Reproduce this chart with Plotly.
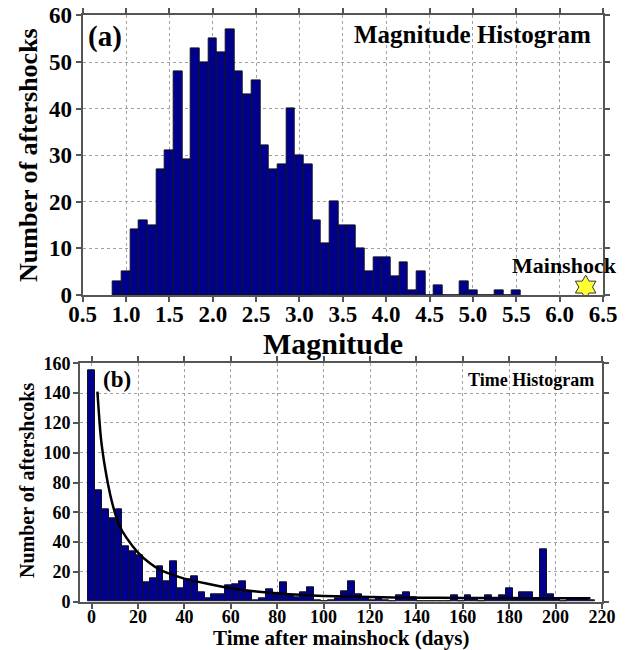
import plotly.graph_objects as go

# ---------------- data ----------------
# (a) magnitude histogram: bin centres (width 0.1) and counts
mag_bins = [0.9, 1.0, 1.1, 1.2, 1.3, 1.4, 1.5, 1.6, 1.7, 1.8, 1.9, 2.0, 2.1, 2.2, 2.3,
            2.4, 2.5, 2.6, 2.7, 2.8, 2.9, 3.0, 3.1, 3.2, 3.3, 3.4, 3.5, 3.6, 3.7, 3.8,
            3.9, 4.0, 4.1, 4.2, 4.3, 4.4, 4.5, 4.6, 4.7, 4.8, 4.9, 5.0, 5.1, 5.2, 5.3,
            5.4, 5.5]
mag_counts = [3, 5, 14, 16, 15, 27, 31, 48, 29, 53, 50, 55, 52, 57, 48,
              43, 46, 32, 27, 28, 40, 30, 28, 16, 11, 20, 15, 15, 10, 5,
              8, 8, 4, 7, 1, 5, 0, 2, 0, 0, 3, 1, 0, 0, 1,
              0, 1]
mag_bin_width = 0.1
mag_ticks = ["0.5", "1.0", "1.5", "2.0", "2.5", "3.0", "3.5", "4.0", "4.5", "5.0",
             "5.5", "6.0", "6.5"]
mainshock_mag = [6.3]
mainshock_y = [1.7]

# (b) time histogram: counts per bin (bin width in days), first bin centred on day 0
time_bin_width = 2.95
time_counts = [155, 75, 62, 56, 62, 37, 34, 31, 13, 16, 24, 14, 27, 9, 15, 17, 6, 2,
               5, 5, 11, 12, 14, 7, 1, 2, 8, 5, 13, 4, 3, 6, 10, 1, 0, 1, 2, 7,
               14, 5, 3, 1, 2, 1, 0, 4, 6, 3, 0, 0, 0, 0, 0, 4, 0, 4, 2, 0,
               4, 2, 4, 9, 2, 6, 6, 2, 35, 5, 2, 0, 2, 2, 2, 1]
time_bins = [i * time_bin_width for i in range(len(time_counts))]

# fitted decay curve
fit_days = [2.5, 4, 6, 8, 10, 12, 15, 20, 25, 30, 35, 40, 50, 60, 70, 80, 90, 100,
            120, 140, 160, 180, 200, 215]
fit_counts = [141, 110, 88, 72, 60, 51, 43, 33, 26, 21, 18, 15.5, 12, 9, 7, 5.6, 4.6, 3.9,
              3.1, 2.7, 2.5, 2.4, 2.3, 2.3]

# ---------------- style ----------------
FONT = "Liberation Serif, Times New Roman, serif"
BAR = "rgb(0,0,140)"
AX = "#555555"
GRID = "#a0a0a0"

# page body has an 8px margin: size the figure so that it fills the window
OFF = 8
W, H = 627 - OFF, 650 - OFF


def px(x):
    return (x - OFF) / W


def py(y):
    return 1 - (y - OFF) / H


fig = go.Figure()

fig.add_trace(go.Bar(x=mag_bins, y=mag_counts, width=mag_bin_width,
                     marker=dict(color=BAR, line=dict(color="#111122", width=1)),
                     xaxis="x", yaxis="y", showlegend=False))
fig.add_trace(go.Scatter(x=mainshock_mag, y=mainshock_y, mode="markers",
                         marker=dict(symbol="hexagram", size=18, color="#ffff33",
                                     line=dict(color="#333333", width=1)),
                         xaxis="x", yaxis="y", showlegend=False))

fig.add_trace(go.Bar(x=time_bins, y=time_counts, width=time_bin_width,
                     marker=dict(color=BAR, line=dict(color="#111122", width=1)),
                     xaxis="x2", yaxis="y2", showlegend=False))
fig.add_trace(go.Scatter(x=fit_days, y=fit_counts, mode="lines",
                         line=dict(color="black", width=2.5, shape="spline", smoothing=0.6),
                         xaxis="x2", yaxis="y2", showlegend=False))

axis_common = dict(showline=True, linecolor=AX, linewidth=2, mirror="ticks",
                   ticks="outside", ticklen=5, tickwidth=1.5, tickcolor=AX,
                   showgrid=True, gridcolor=GRID, griddash="dot", gridwidth=1,
                   zeroline=False, fixedrange=True, automargin=False,
                   ticklabeloverflow="allow")

big_tick = dict(size=23, family=FONT, weight="bold", color="black")
small_tick = dict(size=18, family=FONT, weight="bold", color="black")

fig.update_layout(
    template="none",
    width=W, height=H,
    margin=dict(l=0, r=0, t=0, b=0, pad=0),
    paper_bgcolor="white", plot_bgcolor="white",
    bargap=0,
    font=dict(family=FONT, color="black"),
    xaxis=dict(domain=[px(82.7), px(603)], anchor="y", range=[0.5, 6.5],
               tickmode="array", tickvals=[float(t) for t in mag_ticks],
               ticktext=mag_ticks, ticklabelstandoff=-8,
               tickfont=big_tick, **axis_common),
    yaxis=dict(domain=[py(295), py(15.4)], anchor="x", range=[0, 60], dtick=10,
               ticklabelstandoff=-1, tickfont=big_tick, **axis_common),
    xaxis2=dict(domain=[px(80), px(602)], anchor="y2", range=[-5, 220], dtick=20,
                ticklabelstandoff=-7, tickfont=small_tick, **axis_common),
    yaxis2=dict(domain=[py(601.7), py(363.3)], anchor="x2", range=[0, 160], dtick=20,
                ticklabelstandoff=-1, tickfont=small_tick, **axis_common),
)

ann = [
    dict(text="<b>(a)</b>", xref="paper", yref="paper", x=px(86), y=py(36),
         xanchor="left", yanchor="middle", showarrow=False, font=dict(size=29)),
    dict(text="<b>Magnitude Histogram</b>", xref="paper", yref="paper", x=px(593),
         y=py(34), xanchor="right", yanchor="middle", showarrow=False,
         font=dict(size=25)),
    dict(text="<b>Mainshock</b>", xref="x", yref="y", x=6.06, y=6.4,
         xanchor="center", yanchor="middle", showarrow=False, font=dict(size=22)),
    dict(text="<b>Number of aftershocks</b>", xref="paper", yref="paper", x=px(29),
         y=py(155), xanchor="center", yanchor="middle", textangle=-90,
         showarrow=False, font=dict(size=26)),
    dict(text="<b>Magnitude</b>", xref="paper", yref="paper", x=px(333),
         y=py(343), xanchor="center", yanchor="middle", showarrow=False,
         font=dict(size=30)),
    dict(text="<b>(b)</b>", xref="paper", yref="paper", x=px(101), y=py(380),
         xanchor="left", yanchor="middle", showarrow=False, font=dict(size=23)),
    dict(text="<b>Time Histogram</b>", xref="paper", yref="paper", x=px(596),
         y=py(380), xanchor="right", yanchor="middle", showarrow=False,
         font=dict(size=18)),
    dict(text="<b>Number of aftershcoks</b>", xref="paper", yref="paper", x=px(27),
         y=py(481), xanchor="center", yanchor="middle", textangle=-90,
         showarrow=False, font=dict(size=20)),
    dict(text="<b>Time after mainshock (days)</b>", xref="paper", yref="paper",
         x=px(341), y=py(637.5), xanchor="center", yanchor="middle",
         showarrow=False, font=dict(size=21)),
]
fig.update_layout(annotations=ann)

fig.write_html("out.html")
